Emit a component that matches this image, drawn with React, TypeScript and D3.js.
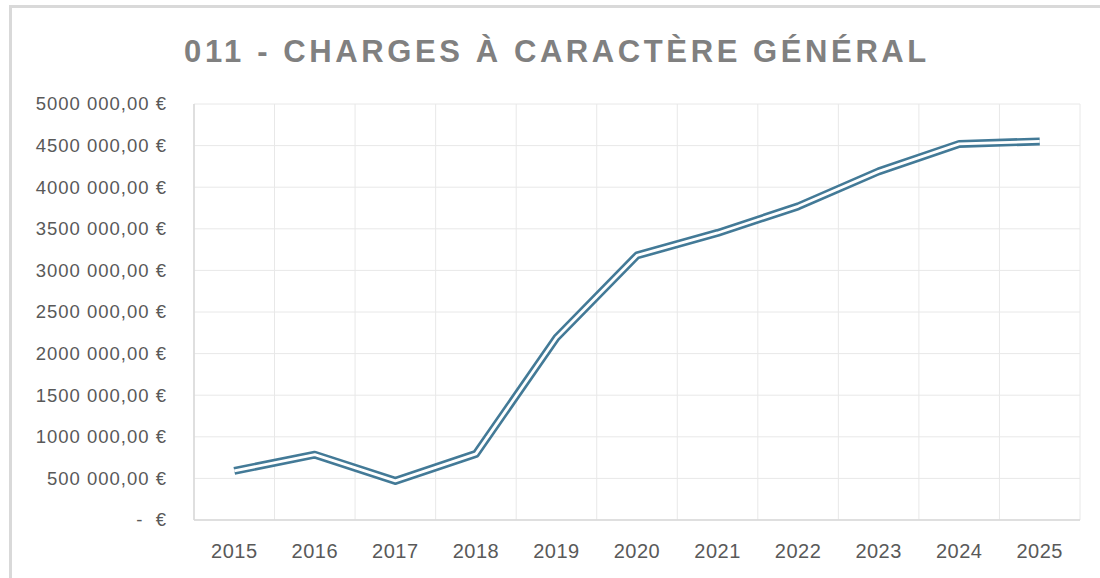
import React from 'react'
import * as d3 from 'd3'

const title = '011 - CHARGES À CARACTÈRE GÉNÉRAL'
const years = ['2015', '2016', '2017', '2018', '2019', '2020', '2021', '2022', '2023', '2024', '2025']
const charges = [590000, 785000, 470000, 795000, 2190000, 3180000, 3450000, 3770000, 4190000, 4520000, 4550000]
const yTicks = [0, 500000, 1000000, 1500000, 2000000, 2500000, 3000000, 3500000, 4000000, 4500000, 5000000]

const W = 1100
const H = 578
const margin = { top: 104, right: 20, bottom: 58, left: 194 }

// format like the spreadsheet: "4500 000,00 €" and "-  €" for zero
function euro(v: number) {
	if (v === 0) return '-\u00a0\u00a0€'
	const thousands = Math.floor(v / 1000)
	const rest = String(v % 1000).padStart(3, '0')
	return `${thousands} ${rest},00 €`
}

export default function App() {
	const innerW = W - margin.left - margin.right
	const innerH = H - margin.top - margin.bottom

	const x = d3.scaleBand<string>().domain(years).range([0, innerW])
	const y = d3.scaleLinear().domain([0, 5000000]).range([innerH, 0])

	const line = d3.line<number>()
		.x((d, i) => (x(years[i]) as number) + x.bandwidth() / 2)
		.y(d => y(d))

	const path = line(charges) || ''
	const gridColor = '#e8e8e8'
	const textColor = '#595959'

	return (
		<svg width={W} height={H} style={{ position: 'absolute', left: 0, top: 0 }}>
			<rect x={0} y={0} width={W} height={H} fill="#fff" />
			<rect x={10.5} y={6.5} width={W + 20} height={H + 20} fill="none" stroke="#d9d9d9" strokeWidth={3} />

			<text
				x={557}
				y={62}
				textAnchor="middle"
				fontFamily="Liberation Sans, Arial, sans-serif"
				fontWeight="bold"
				fontSize={31}
				letterSpacing={3.6}
				fill="#808080"
			>
				{title}
			</text>

			<g transform={`translate(${margin.left},${margin.top})`}>
				{yTicks.map(t => (
					<line key={'h' + t} x1={0} x2={innerW} y1={y(t)} y2={y(t)} stroke={gridColor} strokeWidth={1} />
				))}
				{years.map(yr => (
					<line key={'v' + yr} x1={x(yr)} x2={x(yr)} y1={0} y2={innerH} stroke={gridColor} strokeWidth={1} />
				))}
				<line x1={innerW} x2={innerW} y1={0} y2={innerH} stroke={gridColor} strokeWidth={1} />
				<line x1={0} x2={0} y1={0} y2={innerH} stroke="#d9d9d9" strokeWidth={1.5} />
				<line x1={0} x2={innerW} y1={innerH} y2={innerH} stroke="#d9d9d9" strokeWidth={1.5} />

				{yTicks.map(t => (
					<text
						key={'yl' + t}
						x={-27}
						y={y(t)}
						dy="0.35em"
						textAnchor="end"
						fontFamily="Liberation Sans, Arial, sans-serif"
						fontSize={18.5}
						letterSpacing={1}
						fill={textColor}
					>
						{euro(t)}
					</text>
				))}
				{years.map(yr => (
					<text
						key={'xl' + yr}
						x={(x(yr) as number) + x.bandwidth() / 2}
						y={innerH + 38}
						textAnchor="middle"
						fontFamily="Liberation Sans, Arial, sans-serif"
						fontSize={20}
						letterSpacing={0.5}
						fill={textColor}
					>
						{yr}
					</text>
				))}

				<path d={path} fill="none" stroke="#2f6b8c" strokeWidth={8} strokeLinejoin="round" opacity={0.9} />
				<path d={path} fill="none" stroke="#fff" strokeWidth={2.8} strokeLinejoin="round" />
			</g>
		</svg>
	)
}
